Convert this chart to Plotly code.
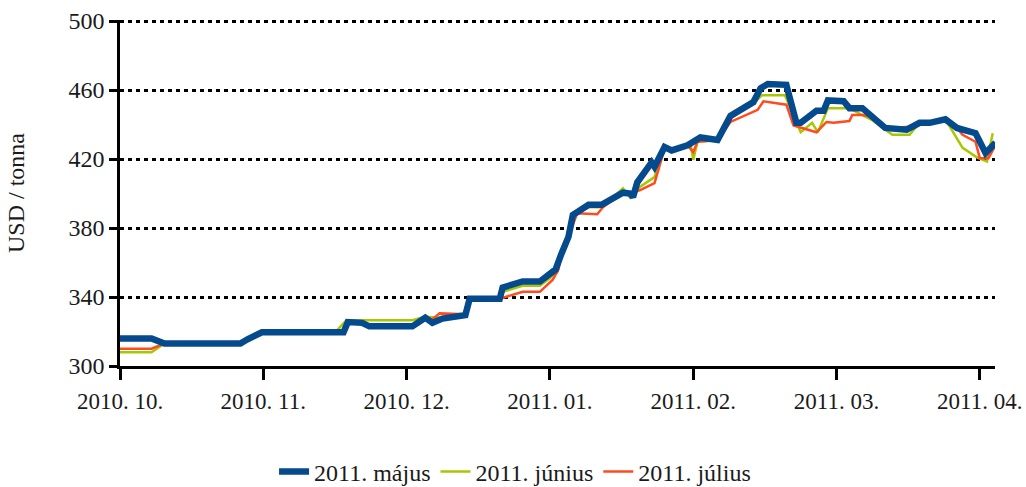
import plotly.graph_objects as go

# x positions in months since 2010-10 (0 = 2010.10., 1 = 2010.11., ...)
may_x = [0.00, 0.22, 0.31, 0.84, 0.89, 0.99, 1.50, 1.56, 1.59, 1.69, 1.74, 2.04, 2.13, 2.18, 2.25,
         2.36, 2.41, 2.44, 2.65, 2.67, 2.81, 2.93, 3.04, 3.08, 3.13, 3.16, 3.27, 3.36, 3.51, 3.56,
         3.58, 3.61, 3.71, 3.73, 3.80, 3.85, 3.96, 4.05, 4.17, 4.26, 4.33, 4.42, 4.47, 4.52, 4.65,
         4.72, 4.75, 4.86, 4.91, 4.94, 5.05, 5.09, 5.18, 5.25, 5.34, 5.49, 5.58, 5.65, 5.76, 5.84,
         5.97, 6.04, 6.11]
may_y = [316, 316, 313, 313, 315.5, 319.5, 319.5, 319.5, 325.5, 325, 323, 323, 328, 325, 327.5,
         329.5, 329.5, 339, 339, 345.5, 349, 349, 356, 365, 375, 387.5, 393.5, 393.5, 400.5, 400,
         398, 406.5, 418, 415.5, 427, 425, 428, 432.5, 431, 445, 448.5, 453, 461, 463.5, 463,
         441, 441, 448, 448, 454, 453.5, 449.5, 449.5, 444.5, 438, 437, 441, 441, 443, 438,
         435, 423.5, 429.5]

jun_x = [0.00, 0.22, 0.31, 0.84, 0.89, 0.99, 1.50, 1.58, 2.04, 2.13, 2.24, 2.36, 2.41, 2.44, 2.65,
         2.67, 2.81, 2.93, 3.05, 3.08, 3.13, 3.16, 3.27, 3.36, 3.51, 3.56, 3.63, 3.73, 3.80, 3.85,
         3.96, 3.98, 4.00, 4.03, 4.17, 4.26, 4.33, 4.42, 4.48, 4.64, 4.75, 4.83, 4.87, 4.94, 5.06,
         5.09, 5.18, 5.25, 5.39, 5.51, 5.58, 5.65, 5.76, 5.88, 5.98, 6.05, 6.09]
jun_y = [308, 308, 313, 313, 315.5, 319.5, 319.5, 326.5, 326.5, 328.5, 328, 329.5, 329.5, 339, 339,
         343, 346.5, 346.5, 354, 365, 375, 387.5, 392, 392, 403, 397.5, 404, 409.5, 427, 425,
         428, 430, 419.5, 430, 431, 445, 448.5, 452, 457, 457, 435.5, 441, 435.5, 449.5, 449.5,
         449.5, 445.5, 442.5, 434, 434, 441, 441, 443, 426.5, 421, 418.5, 435]

jul_x = [0.00, 0.22, 0.31, 0.84, 0.89, 0.99, 1.50, 1.56, 1.59, 1.69, 1.74, 2.04, 2.13, 2.18, 2.23,
         2.36, 2.41, 2.44, 2.65, 2.81, 2.93, 3.02, 3.06, 3.08, 3.13, 3.19, 3.33, 3.37, 3.51, 3.56,
         3.63, 3.73, 3.80, 3.85, 3.96, 4.00, 4.03, 4.17, 4.26, 4.45, 4.49, 4.65, 4.70, 4.86, 4.93,
         4.98, 5.09, 5.11, 5.18, 5.25, 5.34, 5.49, 5.58, 5.76, 5.84, 5.88, 5.97, 6.00, 6.06, 6.11]
jul_y = [310, 310, 313, 313, 315.5, 319.5, 319.5, 319.5, 325.5, 325, 323, 323, 328, 327, 330.5,
         330, 330, 339, 339, 343, 343, 350, 356, 365, 375, 388.5, 388, 392, 400.5, 400,
         402, 406, 426, 425, 428, 424, 430, 431, 441.5, 448.5, 453.5, 451.5, 439.5, 435.5, 441.5,
         441, 442, 445.5, 445.5, 444.5, 438, 438.5, 441, 443, 438, 434, 430, 420.5, 420.5, 428]

tick_vals = [0, 1, 2, 3, 4, 5, 6]
tick_text = ["2010. 10.", "2010. 11.", "2010. 12.", "2011. 01.", "2011. 02.", "2011. 03.", "2011. 04."]
y_ticks = [300, 340, 380, 420, 460, 500]

FONT = "Liberation Serif"
FS = 24

fig = go.Figure()
fig.add_trace(go.Scatter(x=jun_x, y=jun_y, mode="lines", name="2011. június",
                         line=dict(color="#A9C700", width=2.5), legendrank=2))
fig.add_trace(go.Scatter(x=jul_x, y=jul_y, mode="lines", name="2011. július",
                         line=dict(color="#FF4B1E", width=2.5), legendrank=3))
fig.add_trace(go.Scatter(x=may_x, y=may_y, mode="lines", name="2011. május",
                         line=dict(color="#044A8C", width=6.5), legendrank=1))

fig.update_layout(
    width=1026, height=487,
    margin=dict(l=120, r=31, t=20, b=121, autoexpand=False),
    plot_bgcolor="white", paper_bgcolor="white",
    font=dict(family=FONT, size=FS, color="#1a1a1a"),
    legend=dict(orientation="h", xref="container", yref="container",
                x=0.502, xanchor="center", y=0.031, yanchor="middle",
                font=dict(family=FONT, size=FS), itemwidth=30, tracegroupgap=0),
    showlegend=True,
)
fig.update_xaxes(
    range=[0, 6.106], tickvals=tick_vals, ticktext=tick_text,
    showgrid=False, zeroline=False, automargin=False,
    showline=True, linecolor="black", linewidth=2.5,
    ticks="outside", ticklen=11, tickwidth=2.5, tickcolor="black",
    ticklabelstandoff=2,
    tickfont=dict(family=FONT, size=23),
)
fig.update_yaxes(
    range=[300, 500.6], tickvals=y_ticks,
    showgrid=True, gridcolor="black", gridwidth=2.5, griddash="4px,4px",
    zeroline=False, automargin=False,
    showline=True, linecolor="black", linewidth=2.5,
    ticks="outside", ticklen=8, tickwidth=2.5, tickcolor="black",
    tickfont=dict(family=FONT, size=FS),
    title=dict(text="USD / tonna", font=dict(family=FONT, size=FS), standoff=38),
)

fig.write_html(
    "out.html",
    config={"displayModeBar": False},
    post_script="document.body.style.margin='0';document.body.style.overflow='hidden';",
)
